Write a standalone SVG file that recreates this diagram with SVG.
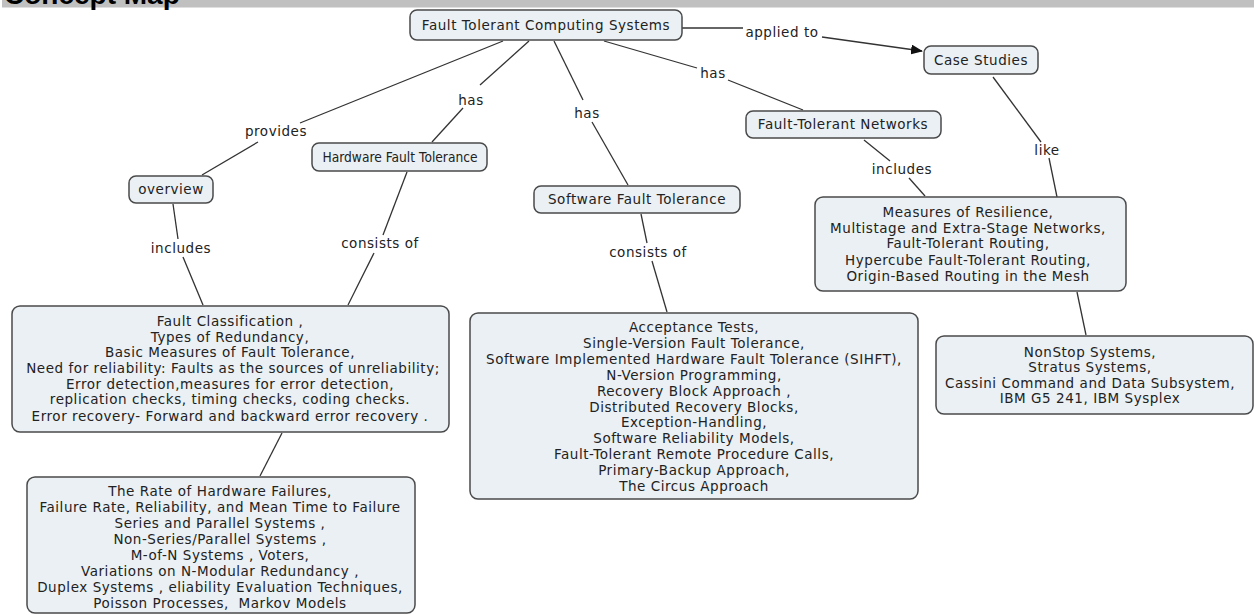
<svg xmlns="http://www.w3.org/2000/svg" width="1254" height="615" viewBox="0 0 1254 615">
  <style>
    .box { fill: #eaf0f4; stroke: #4a4a4a; stroke-width: 1.5; }
    .t { font-family: "DejaVu Sans", Verdana, sans-serif; font-size: 13.5px; letter-spacing: 0.55px; fill: #222; text-anchor: middle; }
    .narrow { letter-spacing: 0; }
    .lbl { font-family: "DejaVu Sans", Verdana, sans-serif; font-size: 13.5px; letter-spacing: 0.55px; fill: #222; text-anchor: middle; }
    .ln { stroke: #333; stroke-width: 1.3; fill: none; }
  </style>
  <defs>
    <marker id="arrow" viewBox="0 0 12 10" refX="11" refY="5" markerWidth="12" markerHeight="10" markerUnits="userSpaceOnUse" orient="auto">
      <path d="M0,0 L12,5 L0,10 z" fill="#111"/>
    </marker>
  </defs>

  <!-- title bar -->
  <rect x="2" y="0" width="1252" height="7.5" fill="#c0c0c0"/>
  <text x="4" y="4" font-family="Liberation Sans, Arial, sans-serif" font-weight="bold" font-size="28" fill="#000">Concept Map</text>

  <!-- connectors -->
  <g id="connectors">
    <line class="ln" x1="682" y1="28" x2="743" y2="28"/>
    <line class="ln" x1="822" y1="37" x2="922" y2="51" marker-end="url(#arrow)"/>
    <line class="ln" x1="993" y1="77" x2="1041" y2="142"/>
    <line class="ln" x1="1049" y1="158" x2="1057" y2="197"/>
    <line class="ln" x1="604" y1="41" x2="697" y2="68"/>
    <line class="ln" x1="728" y1="80" x2="803" y2="110"/>
    <line class="ln" x1="864" y1="140" x2="890" y2="161"/>
    <line class="ln" x1="909" y1="178" x2="925" y2="196"/>
    <line class="ln" x1="1077" y1="292" x2="1086" y2="335"/>
    <line class="ln" x1="554" y1="41" x2="583" y2="100"/>
    <line class="ln" x1="592" y1="122" x2="628" y2="185"/>
    <line class="ln" x1="641" y1="214" x2="647" y2="243"/>
    <line class="ln" x1="652" y1="261" x2="667" y2="312"/>
    <line class="ln" x1="529" y1="41" x2="480" y2="85"/>
    <line class="ln" x1="463" y1="108" x2="432" y2="142"/>
    <line class="ln" x1="503" y1="41" x2="300" y2="123"/>
    <line class="ln" x1="258" y1="142" x2="202" y2="175"/>
    <line class="ln" x1="173" y1="204" x2="178" y2="239"/>
    <line class="ln" x1="183" y1="257" x2="203" y2="305"/>
    <line class="ln" x1="407" y1="172" x2="383" y2="235"/>
    <line class="ln" x1="374" y1="253" x2="348" y2="305"/>
    <line class="ln" x1="282" y1="433" x2="260" y2="476"/>
  </g>

  <!-- link labels -->
  <g id="labels">
    <text class="lbl" x="782" y="37">applied to</text>
    <text class="lbl" x="1047" y="155">like</text>
    <text class="lbl" x="713" y="78">has</text>
    <text class="lbl" x="902" y="174">includes</text>
    <text class="lbl" x="587" y="118">has</text>
    <text class="lbl" x="648" y="257">consists of</text>
    <text class="lbl" x="471" y="105">has</text>
    <text class="lbl" x="276" y="136">provides</text>
    <text class="lbl" x="181" y="253">includes</text>
    <text class="lbl" x="380" y="248">consists of</text>
  </g>

  <g id="fault-tolerant-computing-systems">
    <rect class="box" x="410" y="10" width="272" height="30" rx="7"/>
    <text class="t" x="546" y="30">Fault Tolerant Computing Systems</text>
  </g>

  <g id="case-studies">
    <rect class="box" x="924" y="46" width="114" height="28" rx="7"/>
    <text class="t" x="981" y="65">Case Studies</text>
  </g>

  <g id="fault-tolerant-networks">
    <rect class="box" x="746" y="111" width="195" height="27" rx="7"/>
    <text class="t" x="843" y="129">Fault-Tolerant Networks</text>
  </g>

  <g id="hardware-fault-tolerance">
    <rect class="box" x="312" y="143" width="175" height="28" rx="7"/>
    <text class="t narrow" x="400" y="162" textLength="155" lengthAdjust="spacingAndGlyphs">Hardware Fault Tolerance</text>
  </g>

  <g id="overview">
    <rect class="box" x="129" y="176" width="84" height="27" rx="7"/>
    <text class="t" x="171" y="194">overview</text>
  </g>

  <g id="software-fault-tolerance">
    <rect class="box" x="534" y="186" width="206" height="27" rx="7"/>
    <text class="t" x="637" y="204">Software Fault Tolerance</text>
  </g>

  <g id="network-topics">
    <rect class="box" x="815" y="197" width="311" height="94" rx="8"/>
    <text class="t" x="968" y="217">Measures of Resilience,</text>
    <text class="t" x="968" y="233">Multistage and Extra-Stage Networks,</text>
    <text class="t" x="968" y="248">Fault-Tolerant Routing,</text>
    <text class="t" x="968" y="265">Hypercube Fault-Tolerant Routing,</text>
    <text class="t" x="968" y="281">Origin-Based Routing in the Mesh</text>
  </g>

  <g id="case-study-systems">
    <rect class="box" x="936" y="336" width="317" height="78" rx="8"/>
    <text class="t" x="1090" y="357">NonStop Systems,</text>
    <text class="t" x="1090" y="372">Stratus Systems,</text>
    <text class="t" x="1090" y="388">Cassini Command and Data Subsystem,</text>
    <text class="t" x="1090" y="403">IBM G5 241, IBM Sysplex</text>
  </g>

  <g id="overview-topics">
    <rect class="box" x="12" y="306" width="437" height="126" rx="8"/>
    <text class="t" x="230" y="326">Fault Classification ,</text>
    <text class="t" x="230" y="342">Types of Redundancy,</text>
    <text class="t" x="230" y="357">Basic Measures of Fault Tolerance,</text>
    <text class="t" x="233" y="373">Need for reliability: Faults as the sources of unreliability;</text>
    <text class="t" x="230" y="389">Error detection,measures for error detection,</text>
    <text class="t" x="230" y="404">replication checks, timing checks, coding checks.</text>
    <text class="t" x="230" y="421">Error recovery- Forward and backward error recovery .</text>
  </g>

  <g id="hardware-topics">
    <rect class="box" x="27" y="477" width="388" height="136" rx="8"/>
    <text class="t" x="220" y="496">The Rate of Hardware Failures,</text>
    <text class="t" x="220" y="512">Failure Rate, Reliability, and Mean Time to Failure</text>
    <text class="t" x="220" y="528">Series and Parallel Systems ,</text>
    <text class="t" x="220" y="544">Non-Series/Parallel Systems ,</text>
    <text class="t" x="220" y="560">M-of-N Systems , Voters,</text>
    <text class="t" x="220" y="576">Variations on N-Modular Redundancy ,</text>
    <text class="t" x="220" y="592">Duplex Systems , eliability Evaluation Techniques,</text>
    <text class="t" x="220" y="608" xml:space="preserve">Poisson Processes,  Markov Models</text>
  </g>

  <g id="software-topics">
    <rect class="box" x="470" y="313" width="448" height="186" rx="8"/>
    <text class="t" x="694" y="332">Acceptance Tests,</text>
    <text class="t" x="694" y="348">Single-Version Fault Tolerance,</text>
    <text class="t" x="694" y="364">Software Implemented Hardware Fault Tolerance (SIHFT),</text>
    <text class="t" x="694" y="380">N-Version Programming,</text>
    <text class="t" x="694" y="396">Recovery Block Approach ,</text>
    <text class="t" x="694" y="412">Distributed Recovery Blocks,</text>
    <text class="t" x="694" y="427">Exception-Handling,</text>
    <text class="t" x="694" y="443">Software Reliability Models,</text>
    <text class="t" x="694" y="459">Fault-Tolerant Remote Procedure Calls,</text>
    <text class="t" x="694" y="475">Primary-Backup Approach,</text>
    <text class="t" x="694" y="491">The Circus Approach</text>
  </g>
</svg>
